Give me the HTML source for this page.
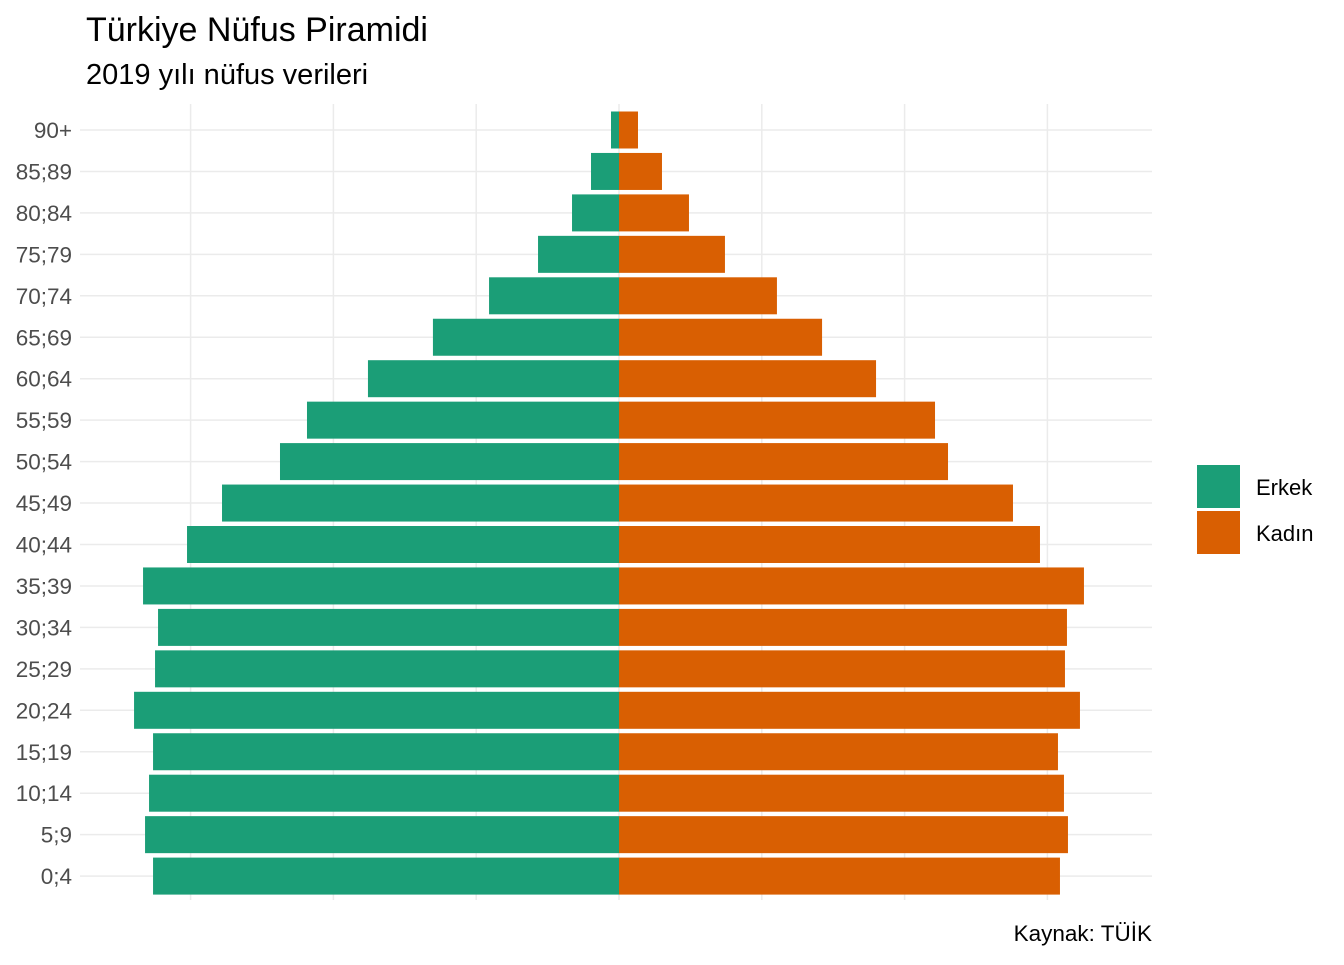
<!DOCTYPE html>
<html><head><meta charset="utf-8"><style>
body{margin:0;background:#fff;font-family:"Liberation Sans",sans-serif;}
svg text{font-family:"Liberation Sans",sans-serif;}
</style></head><body>
<svg width="1344" height="960" id="chart">
<text x="86" y="41" font-size="34" fill="#000">Türkiye Nüfus Piramidi</text>
<text x="86" y="84" font-size="29" fill="#000">2019 yılı nüfus verileri</text>
<g id="grid"></g><g id="bars"></g><g id="labels"></g>
<g>
<rect x="1197" y="465" width="43" height="43" fill="#1B9E77"/>
<text x="1256" y="495" font-size="22">Erkek</text>
<rect x="1197" y="511" width="43" height="43" fill="#D95F02"/>
<text x="1256" y="541" font-size="22">Kadın</text>
</g>
<text x="1152" y="941" font-size="22.5" text-anchor="end">Kaynak: TÜİK</text>
</svg>
<script>
const ageGroups=["90+","85;89","80;84","75;79","70;74","65;69","60;64","55;59","50;54","45;49","40;44","35;39","30;34","25;29","20;24","15;19","10;14","5;9","0;4"];
const male=[0.056,0.196,0.329,0.567,0.910,1.303,1.758,2.185,2.374,2.780,3.025,3.333,3.228,3.249,3.396,3.263,3.291,3.319,3.263];
const female=[0.133,0.301,0.490,0.742,1.106,1.422,1.800,2.213,2.304,2.759,2.948,3.256,3.137,3.123,3.228,3.074,3.116,3.144,3.088];
const gridTicks=[-3,-2,-1,0,1,2,3];
const NS="http://www.w3.org/2000/svg";
const cx=619,pxPerM=142.8,top0=130,step=41.45,bh=37;
const X=v=>cx+v*pxPerM;
const Y=i=>top0+i*step;
function mk(tag,attrs,parent){const e=document.createElementNS(NS,tag);for(const k in attrs)e.setAttribute(k,attrs[k]);document.getElementById(parent).appendChild(e);return e;}
gridTicks.forEach(t=>{
 const l=mk("line",{x1:X(t),x2:X(t),y1:104,y2:900,stroke:"#ebebeb","stroke-width":1.5},"grid");
 
 
});
ageGroups.forEach((g,i)=>{
 const l=mk("line",{x1:80,x2:1152,y1:Y(i),y2:Y(i),stroke:"#ebebeb","stroke-width":1.5},"grid");
 
 
 const m=mk("rect",{x:X(-male[i]),y:Y(i)-bh/2,width:male[i]*pxPerM,height:bh,fill:"#1B9E77"},"bars");
 
 
 const f=mk("rect",{x:cx,y:Y(i)-bh/2,width:female[i]*pxPerM,height:bh,fill:"#D95F02"},"bars");
 
 
 const t=mk("text",{x:72,y:Y(i)+8,"font-size":22.5,fill:"#4d4d4d","text-anchor":"end"},"labels");
 t.textContent=g;
 
 
});
</script>
</body></html>
